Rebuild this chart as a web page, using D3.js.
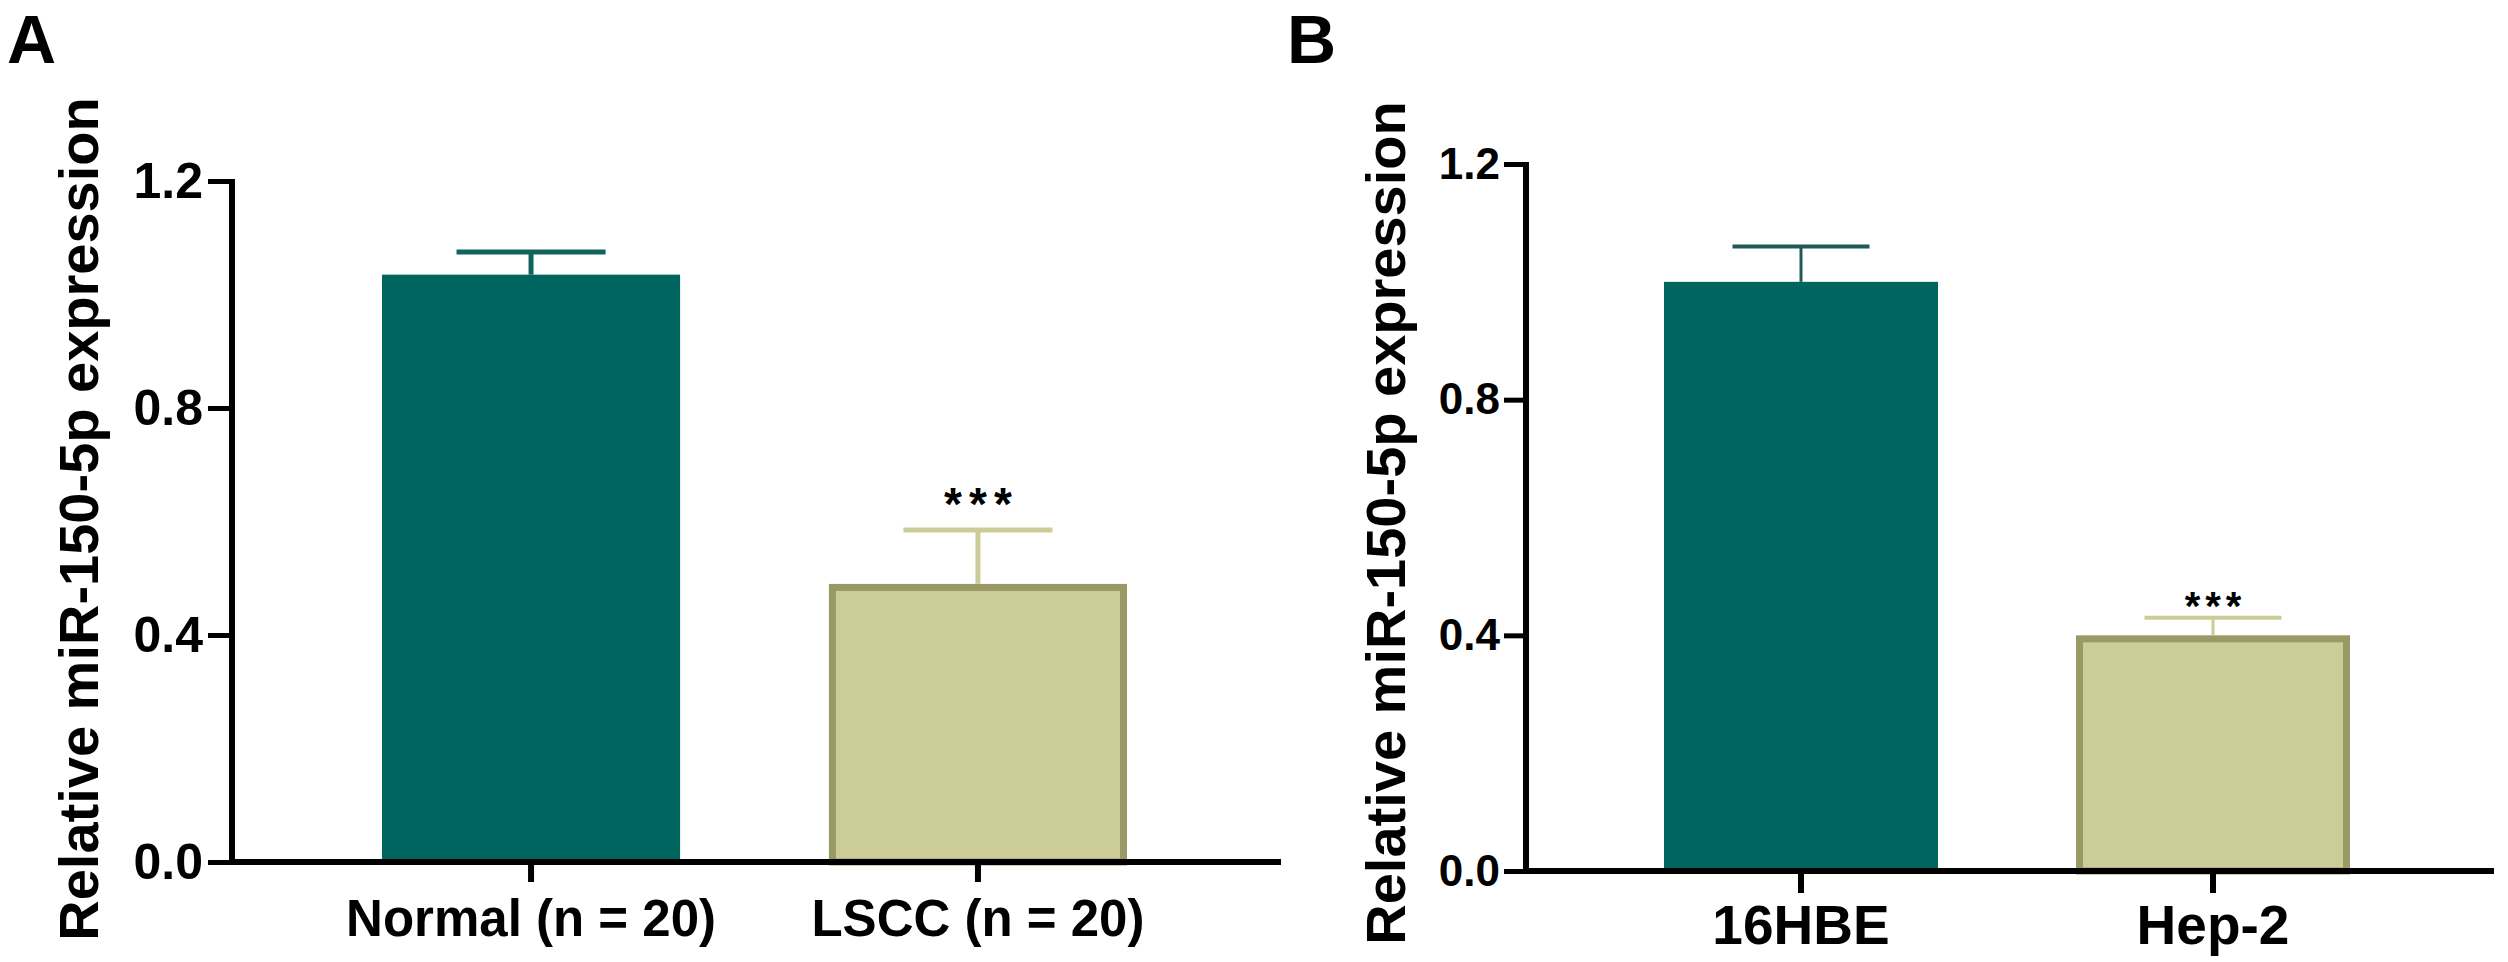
<!DOCTYPE html>
<html>
<head>
<meta charset="utf-8">
<script src="https://cdn.jsdelivr.net/npm/d3@7"></script>
<style>
  html, body { margin: 0; padding: 0; background: #fff; }
  svg text { font-family: "Liberation Sans", Arial, sans-serif; font-weight: bold; fill: #000; }
</style>
</head>
<body>
<svg id="chart" width="2508" height="962"></svg>
<script>
'use strict'

// panel A: tissue samples
var groupsA = ["Normal (n = 20)", "LSCC (n = 20)"];
var meanA = [1.035, 0.49];
var semA = [0.04, 0.095];
var sigA = ["", "***"];

// panel B: cell lines
var groupsB = ["16HBE", "Hep-2"];
var meanB = [1.0, 0.40];
var semB = [0.06, 0.03];
var sigB = ["", "***"];

var yTicks = [0, 0.4, 0.8, 1.2];
var yTitle = "Relative miR-150-5p expression";

var teal = "#00645f";
var khaki = "#cccc99";
var khakiEdge = "#999966";

var svg = d3.select("#chart");

function panel(cfg) {
  var g = svg.append("g");

  var y = d3.scaleLinear().domain([0, 1.2]).range([cfg.y0, cfg.y1]);
  var x = d3.scaleBand()
      .domain(cfg.groups)
      .range(cfg.xRange)
      .paddingInner(cfg.padInner)
      .paddingOuter(0);
  var bw = x.bandwidth();

  // bars
  var bars = g.selectAll("g.bar")
      .data(cfg.groups.map(function(d, i) {
        return { name: d, mean: cfg.mean[i], sem: cfg.sem[i], sig: cfg.sig[i], i: i };
      }))
      .enter().append("g").attr("class", "bar");

  bars.append("rect")
      .attr("x", function(d) { return x(d.name) + (d.i ? cfg.edge / 2 : 0); })
      .attr("y", function(d) { return y(d.mean) + (d.i ? cfg.edge / 2 : 0); })
      .attr("width", function(d) { return bw - (d.i ? cfg.edge : 0); })
      .attr("height", function(d) { return y(0) - y(d.mean) - (d.i ? cfg.edge / 2 : 0); })
      .style("fill", function(d) { return d.i ? khaki : teal; })
      .style("stroke", function(d) { return d.i ? khakiEdge : "none"; })
      .style("stroke-width", cfg.edge);

  // error bars (upper half only)
  bars.append("line")
      .attr("x1", function(d) { return x(d.name) + bw / 2; })
      .attr("x2", function(d) { return x(d.name) + bw / 2; })
      .attr("y1", function(d) { return y(d.mean); })
      .attr("y2", function(d) { return y(d.mean + d.sem); })
      .style("stroke", function(d) { return d.i ? khaki : cfg.errTeal; })
      .style("stroke-width", cfg.stem);

  bars.append("line")
      .attr("x1", function(d) { return x(d.name) + bw / 4; })
      .attr("x2", function(d) { return x(d.name) + bw * 3 / 4; })
      .attr("y1", function(d) { return y(d.mean + d.sem); })
      .attr("y2", function(d) { return y(d.mean + d.sem); })
      .style("stroke", function(d) { return d.i ? khaki : cfg.errTeal; })
      .style("stroke-width", cfg.cap);

  bars.append("text")
      .attr("x", function(d) { return x(d.name) + bw / 2 + cfg.starSpace / 2; })
      .attr("y", function(d) { return y(d.mean + d.sem) - cfg.starGap; })
      .attr("text-anchor", "middle")
      .style("font-size", cfg.starSize + "px")
      .style("letter-spacing", cfg.starSpace + "px")
      .text(function(d) { return d.sig; });

  // y axis
  var yAxis = d3.axisLeft(y)
      .tickValues(yTicks)
      .tickFormat(d3.format(".1f"))
      .tickSize(cfg.tick)
      .tickSizeOuter(0)
      .tickPadding(cfg.yPad);

  var ya = g.append("g")
      .attr("transform", "translate(" + cfg.axisX + ",0)")
      .call(yAxis);
  ya.select(".domain").remove();
  ya.selectAll(".tick line").style("stroke", "#000").style("stroke-width", cfg.lw - 1);
  ya.selectAll(".tick text")
      .style("font-size", cfg.yTickSize + "px")
      .attr("font-family", null);

  g.append("line")
      .attr("x1", cfg.axisX).attr("x2", cfg.axisX)
      .attr("y1", y(1.2) - 2).attr("y2", y(0) + 2)
      .style("stroke", "#000").style("stroke-width", cfg.lw);

  // x axis
  var xAxis = d3.axisBottom(x)
      .tickSize(cfg.xTick)
      .tickSizeOuter(0)
      .tickPadding(cfg.xPad);

  var xa = g.append("g")
      .attr("transform", "translate(0," + y(0) + ")")
      .call(xAxis);
  xa.select(".domain").remove();
  xa.selectAll(".tick line").style("stroke", "#000").style("stroke-width", cfg.lw);
  xa.selectAll(".tick text")
      .style("font-size", cfg.xLabelSize + "px")
      .attr("font-family", null);

  g.append("line")
      .attr("x1", cfg.axisX - cfg.lw / 2).attr("x2", cfg.xEnd)
      .attr("y1", y(0)).attr("y2", y(0))
      .style("stroke", "#000").style("stroke-width", cfg.lw);

  // axis title
  g.append("text")
      .attr("transform", "translate(" + cfg.titleX + "," + cfg.titleY + ") rotate(-90)")
      .attr("text-anchor", "middle")
      .style("font-size", "56px")
      .text(yTitle);

  // panel letter
  g.append("text")
      .attr("x", cfg.letterX)
      .attr("y", 63)
      .style("font-size", "68px")
      .text(cfg.letter);
}

panel({
  letter: "A", letterX: 7,
  groups: groupsA, mean: meanA, sem: semA, sig: sigA,
  y0: 862, y1: 181, xRange: [382, 1127], padInner: 0.333,
  axisX: 232, xEnd: 1281, lw: 6, tick: 24, yPad: 5, yTickSize: 50,
  xTick: 20, xPad: 18, xLabelSize: 51,
  titleX: 98, titleY: 519,
  edge: 7, errTeal: "#12625e", stem: 5, cap: 5,
  starSize: 46, starSpace: 7, starGap: 10
});

panel({
  letter: "B", letterX: 1287,
  groups: groupsB, mean: meanB, sem: semB, sig: sigB,
  y0: 871, y1: 164, xRange: [1664, 2350], padInner: 0.335,
  axisX: 1526, xEnd: 2494, lw: 6, tick: 22, yPad: 4, yTickSize: 44,
  xTick: 22, xPad: 12, xLabelSize: 55,
  titleX: 1405, titleY: 523,
  edge: 7, errTeal: "#1e5a56", stem: 3, cap: 4,
  starSize: 40, starSpace: 5, starGap: -2
});
</script>
</body>
</html>
